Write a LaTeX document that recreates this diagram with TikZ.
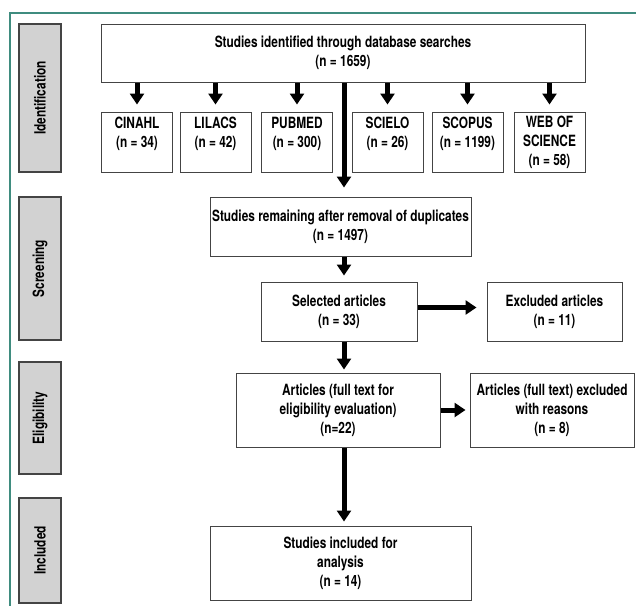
\documentclass[tikz,border=0pt]{standalone}
\usepackage{fontspec}
\setmainfont{TeX Gyre Heros}[FakeStretch=0.765]
\usepackage{tikz}
\usetikzlibrary{arrows.meta,positioning,calc}
\definecolor{framec}{HTML}{3F8C7F}
\definecolor{stagec}{HTML}{D2D2D2}
\definecolor{edgec}{HTML}{444444}

\begin{document}
\begin{tikzpicture}[x=1pt, y=-1pt, font=\fontsize{15.5}{19}\selectfont\bfseries,
  box/.style={draw=edgec, line width=1pt, fill=white, align=center, inner sep=2pt},
  stage/.style={draw=edgec, line width=1.2pt, fill=stagec, rotate=90, minimum height=42pt, inner sep=0pt},
  flow/.style={line width=5pt, -{Triangle[width=14pt,length=11pt]}}]
\useasboundingbox (0,0) rectangle (636,606);
% frame runs along the top and the left side only
\draw[framec, line width=1.8pt] (636,13) -- (10,13) -- (10,606);

% ---- stage labels in the left margin ----
\node[stage, minimum width=148pt] (ident) at (40,98)    {Identification};
\node[stage, minimum width=143pt] (scr)   at (40,268.5) {Screening};
\node[stage, minimum width=112pt] (elig)  at (40,418)   {Eligibility};
\node[stage, minimum width=105pt] (incl)  at (40,550.5) {Included};

% ---- identification : the search and the six databases ----
\node[box, minimum width=484pt, minimum height=58pt] (search) at (343,53)
  {Studies identified through database searches\\(n = 1659)};
\foreach \cx/\nm/\txt in {137/cinahl/{CINAHL\\(n = 34)\\~}, 215.5/lilacs/{LILACS\\(n = 42)\\~},
    297/pubmed/{PUBMED\\(n = 300)\\~}, 387.5/scielo/{SCIELO\\(n = 26)\\~},
    467.5/scopus/{SCOPUS\\(n = 1199)\\~}, 549.5/wos/{WEB OF\\SCIENCE\\(n = 58)}}{
  \node[box, minimum width=71pt, minimum height=60pt] (\nm) at (\cx,142) {\txt};
  \draw[flow, shorten >=7pt] (search.south -| \nm) -- (\nm.north);
}
\coordinate (spine) at (344,0);

% ---- screening ----
\node[box, minimum width=261pt, minimum height=59pt] (unique) at (340.5,226.5)
  {Studies remaining after removal of duplicates\\(n = 1497)};
\node[box, minimum width=156pt, minimum height=59pt] (selected) at (339,311.5)
  {Selected articles\\(n = 33)};
\node[box, minimum width=135pt, minimum height=59pt] (excluded) at (554.5,311.5)
  {Excluded articles\\(n = 11)};

% ---- eligibility ----
\node[box, minimum width=204pt, minimum height=74pt] (fulltext) at (338,410)
  {Articles (full text for\\eligibility evaluation)\\(n=22)};
\node[box, minimum width=164pt, minimum height=74pt] (fullexcl) at (552,410)
  {Articles (full text) excluded\\with reasons\\(n = 8)};

% ---- included ----
\node[box, minimum width=261pt, minimum height=74pt] (final) at (340.5,563)
  {Studies included for\\analysis\\(n = 14)};

% ---- flow arrows ----
\draw[flow, shorten >=9pt] (search.south -| spine) -- (unique.north -| spine);
\draw[flow, shorten >=6pt] (unique.south -| spine) -- (selected.north -| spine);
\draw[flow, shorten >=10pt] ([yshift=4pt]selected.east) -- ([yshift=4pt]excluded.west);
\draw[flow, shorten >=3pt] (selected.south -| spine) -- (fulltext.north -| spine);
\draw[flow, shorten >=4pt] (fulltext.east) -- (fullexcl.west);
\draw[flow, shorten >=4pt] (fulltext.south -| spine) -- (final.north -| spine);
\end{tikzpicture}
\end{document}
